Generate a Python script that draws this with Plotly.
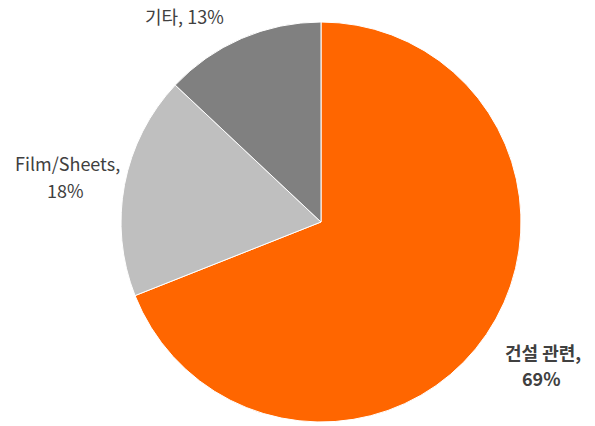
import plotly.graph_objects as go

labels = ["건설 관련", "Film/Sheets", "기타"]
values = [69, 18, 13]
colors = ["#FF6600", "#BFBFBF", "#808080"]

W, H = 595, 426
OFF = 8  # page body margin offset
cx, cy, r = 321 - OFF, 222 - OFF, 200

fig = go.Figure(go.Pie(
    labels=labels, values=values, sort=False, direction="clockwise", rotation=0,
    marker=dict(colors=colors, line=dict(color="white", width=1)),
    textinfo="none", hoverinfo="label+percent", showlegend=False,
    domain=dict(x=[(cx - r) / W, (cx + r) / W], y=[1 - (cy + r) / H, 1 - (cy - r) / H]),
))

font = dict(family="Noto Sans CJK KR, Noto Sans, sans-serif", size=18, color="#404040")
ann = [
    (f"<b>{labels[0]},</b>", 543, 352),
    (f"<b>{values[0]}%</b>", 541, 378),
    (f"{labels[1]},", 67, 163),
    (f"{values[1]}%", 65, 190),
    (f"{labels[2]}, {values[2]}%", 184, 16),
]
for text, x, y in ann:
    fig.add_annotation(text=text, x=(x - OFF) / W, y=1 - (y - OFF) / H, xref="paper", yref="paper",
                       showarrow=False, font=font, xanchor="center", yanchor="middle", align="center")

fig.update_layout(width=W, height=H, margin=dict(l=0, r=0, t=0, b=0),
                  paper_bgcolor="white", plot_bgcolor="white")
fig.write_html("out.html")
